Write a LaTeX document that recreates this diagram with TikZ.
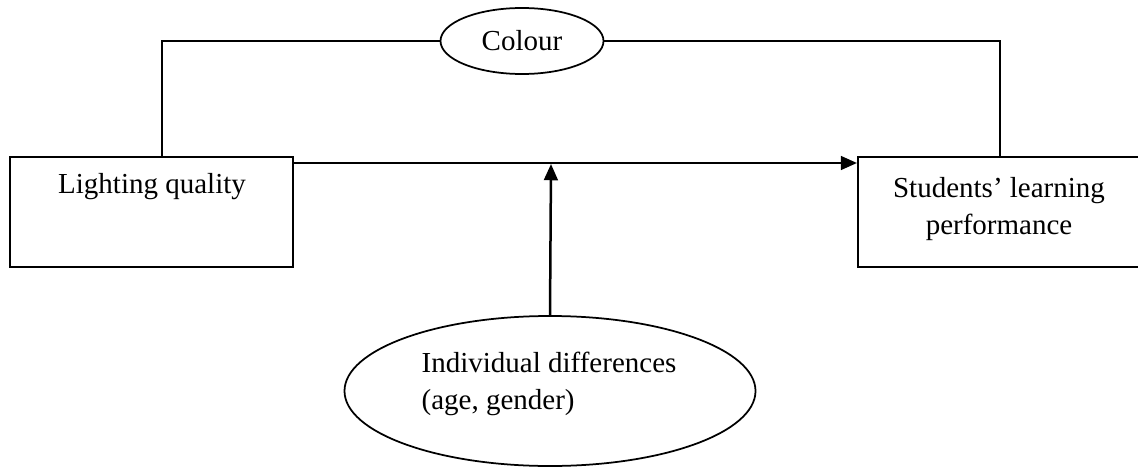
\documentclass[tikz,border=0pt]{standalone}
\usepackage{fontspec}
\setmainfont{Liberation Serif}
\usetikzlibrary{shapes.geometric,arrows.meta,calc}

\begin{document}
\begin{tikzpicture}[x=0.4pt,y=-0.4pt,
  every node/.style={font=\fontsize{11.6}{14.6}\selectfont},
  boxnode/.style={draw,line width=0.8pt,rectangle,inner sep=0pt,minimum height=44pt},
  ovalnode/.style={draw,line width=0.7pt,ellipse,inner sep=0pt},
  link/.style={line width=0.8pt},
  arrowlink/.style={line width=1pt,-{Triangle[length=6.5pt,width=5.5pt]}}]
  \useasboundingbox (0,0) rectangle (1138,466);
  \clip (0,0) rectangle (1138,466);

  % boxes (the right one runs past the page edge)
  \node[boxnode,minimum width=113.2pt] (L) at (151.5,212) {};
  \node[boxnode,minimum width=140.8pt] (R) at (1034,212) {};
  \node (Ltext) at (152,187) {Lighting quality};
  \node[align=center] (Rtext) at (999,209) {Students’ learning\\performance};

  % moderator ovals
  \node[ovalnode,minimum width=65.2pt,minimum height=26.4pt] (C) at (522,41) {Colour};
  \node[ovalnode,minimum width=164.4pt,minimum height=60pt] (E) at (550,391) {};
  \node[align=left] (Etext) at (549,384) {Individual differences\\(age, gender)};

  % main path
  \draw[arrowlink] ($(L.north east)+(0,7)$) -- ($(R.north west)+(0,7)$);
  \coordinate (M) at (551,164);
  \draw[arrowlink] (E.north) -- (M);

  % route through Colour
  \draw[link] ($(L.north west)+(153,0)$) |- (C.west);
  \draw[link] (C.east) -| ($(R.north west)+(143,0)$);
\end{tikzpicture}
\end{document}
